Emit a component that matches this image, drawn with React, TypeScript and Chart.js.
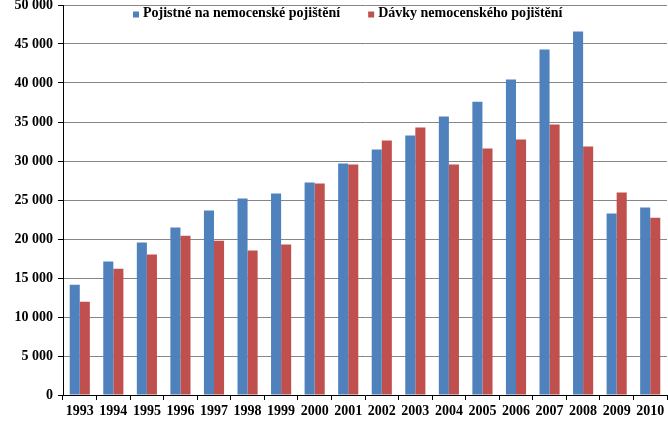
import React, { useEffect, useRef } from 'react';
import { Chart, registerables } from 'chart.js';

Chart.register(...registerables);

const years = ['1993', '1994', '1995', '1996', '1997', '1998', '1999', '2000', '2001', '2002', '2003', '2004', '2005', '2006', '2007', '2008', '2009', '2010'];
const pojistne = [14150, 17100, 19540, 21460, 23640, 25180, 25820, 27230, 29670, 31460, 33260, 35700, 37600, 40440, 44290, 46600, 23260, 24030];
const davky = [11970, 16200, 18000, 20430, 19790, 18510, 19280, 27100, 29540, 32620, 34290, 29540, 31600, 32750, 34670, 31850, 25950, 22740];
const seriesLabels = ['Pojistné na nemocenské pojištění', 'Dávky nemocenského pojištění'];
const seriesColors = ['#4F81BD', '#C0504D'];
const yMax = 50000;
const yStep = 5000;

const FONT = "'Liberation Serif', 'Times New Roman', serif";

const fmt = (v: number) => {
  const s = Math.round(v).toString();
  return s.replace(/\B(?=(\d{3})+(?!\d))/g, ' ');
};

const legendPlugin = {
  id: 'insideLegend',
  afterDraw(chart: any) {
    const ctx = chart.ctx;
    const area = chart.chartArea;
    ctx.save();
    ctx.font = `bold 14px ${FONT}`;
    ctx.textBaseline = 'middle';
    ctx.textAlign = 'left';
    let x = area.left + 70;
    const y = area.top + 8;
    chart.data.datasets.forEach((ds: any) => {
      ctx.fillStyle = ds.backgroundColor;
      ctx.fillRect(x, y - 1.5, 6, 6);
      x += 10;
      ctx.fillStyle = '#000';
      ctx.fillText(ds.label, x, y);
      x += ctx.measureText(ds.label).width + 28;
    });
    ctx.restore();
  },
};

export default function App() {
  const ref = useRef<HTMLCanvasElement | null>(null);

  useEffect(() => {
    document.body.style.margin = '0';
    const canvas = ref.current;
    if (!canvas) return;
    const chart = new Chart(canvas, {
      type: 'bar',
      data: {
        labels: years,
        datasets: [
          { label: seriesLabels[0], data: pojistne, backgroundColor: seriesColors[0], categoryPercentage: 0.6, barPercentage: 1.0 },
          { label: seriesLabels[1], data: davky, backgroundColor: seriesColors[1], categoryPercentage: 0.6, barPercentage: 1.0 },
        ],
      },
      options: {
        responsive: false,
        animation: false,
        layout: { padding: { top: 5, right: 1, left: 0, bottom: 0 } },
        plugins: {
          legend: { display: false },
          tooltip: { enabled: false },
        },
        scales: {
          x: {
            grid: { display: true, drawOnChartArea: false, drawTicks: true, tickLength: 5, tickColor: '#000', offset: true },
            border: { display: true, color: '#000', width: 1 },
            ticks: { color: '#000', font: { family: FONT, size: 14, weight: 'bold' }, padding: 3, maxRotation: 0, autoSkip: false },
            afterFit(scale: any) {
              scale.height = 29;
              scale.paddingLeft = 0;
              scale.paddingRight = 0;
            },
          },
          y: {
            min: 0,
            max: yMax,
            grid: { color: '#868686', lineWidth: 1, tickLength: 5, tickColor: '#000' },
            border: { display: true, color: '#000', width: 1 },
            ticks: {
              stepSize: yStep,
              color: '#000',
              font: { family: FONT, size: 14, weight: 'bold' },
              padding: 5,
              callback: (v: any) => fmt(Number(v)),
            },
            afterFit(scale: any) {
              scale.width = 63;
              scale.paddingTop = 0;
              scale.paddingBottom = 0;
            },
          },
        },
      },
      plugins: [legendPlugin],
    } as any);
    return () => chart.destroy();
  }, []);

  return (
    <div style={{ width: 668, height: 424 }}>
      <canvas ref={ref} width={668} height={424} />
    </div>
  );
}
